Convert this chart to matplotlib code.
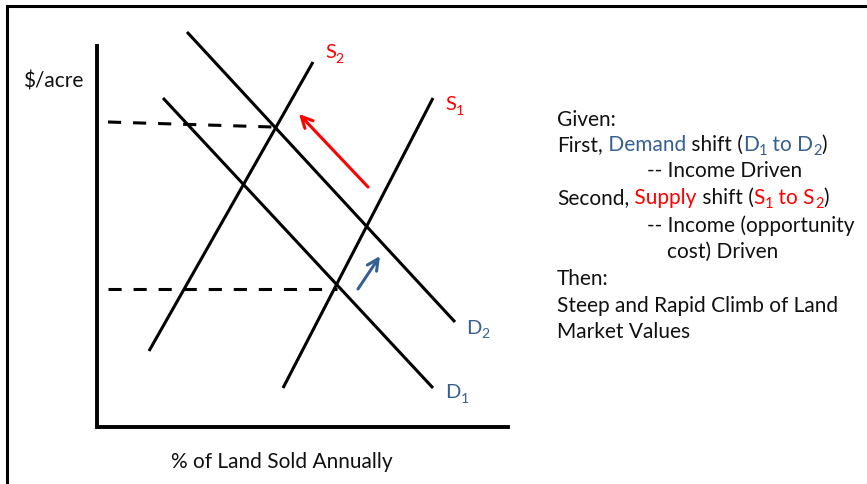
import matplotlib
matplotlib.use("Agg")
import matplotlib.pyplot as plt
import matplotlib.transforms as mtransforms
from matplotlib.patches import Rectangle

plt.rcParams['font.family'] = ['Lato', 'DejaVu Sans']

# curves: (quantity, price) endpoints, origin at the axes corner
curve_names = ['D1', 'D2', 'S1', 'S2']
curve_q0 = [66, 90, 186, 52]
curve_p0 = [329, 395, 39, 76]
curve_q1 = [336, 358, 336, 216]
curve_p1 = [39, 105, 329, 365]
curve_label_q = [348, 369, 348, 228]
curve_label_p = [35, 100, 323, 375]

# equilibrium price guides (dashed)
guide_q0 = [11, 11]
guide_p0 = [305, 138]
guide_q1 = [176, 240]
guide_p1 = [300, 138]

# shift arrows: tail -> head
arrow_names = ['demand', 'supply']
arrow_q0 = [261, 271]
arrow_p0 = [138, 240]
arrow_q1 = [283, 202]
arrow_p1 = [171, 313]

axis_q_max = 411
axis_p_max = 381

RED = '#ff0000'
BLUE = '#376092'
TXT = '#111111'

fig = plt.figure(figsize=(8.67, 4.85), dpi=100)
ax = fig.add_axes([0, 0, 1, 1])
ax.set_xlim(-97, 770)
ax.set_ylim(-57, 428)
ax.axis('off')

# slide frame
fig.patches.append(Rectangle((7 / 867, -0.1), 1.2, 1.1 - 7 / 485, transform=fig.transFigure,
                             fill=False, lw=2.2, ec='black'))

# axes of the diagram
ax.plot([0, 0, axis_q_max], [axis_p_max, 0, 0], color='black', lw=2.8, solid_joinstyle='miter')

for q0, p0, q1, p1 in zip(curve_q0, curve_p0, curve_q1, curve_p1):
    ax.plot([q0, q1], [p0, p1], color='black', lw=2.2, solid_capstyle='butt')

for q0, p0, q1, p1 in zip(guide_q0, guide_p0, guide_q1, guide_p1):
    ax.plot([q0, q1], [p0, p1], color='black', lw=2.2, linestyle=(0, (4.3, 3.9)))

for name, q0, p0, q1, p1 in zip(arrow_names, arrow_q0, arrow_p0, arrow_q1, arrow_p1):
    col = BLUE if name == 'demand' else RED
    ax.annotate('', xy=(q1, p1), xytext=(q0, p0),
                arrowprops=dict(arrowstyle='->', color=col, lw=2.2, mutation_scale=20,
                                shrinkA=0, shrinkB=0))

renderer = fig.canvas.get_renderer()


def draw_runs(x, y, runs, size, va='baseline'):
    # runs: (text, color, subscript?) drawn one after another
    t = ax.transData
    for txt, col, sub in runs:
        if sub:
            tt = mtransforms.offset_copy(t, fig=fig, x=0, y=-size * 0.3, units='points')
            fs = size * 0.7
        else:
            tt = t
            fs = size
        obj = ax.text(x, y, txt, color=col, fontsize=fs, transform=tt, va=va, ha='left')
        w = obj.get_window_extent(renderer).width
        t = mtransforms.offset_copy(t, fig=fig, x=w, y=0, units='dots')


for name, q, p in zip(curve_names, curve_label_q, curve_label_p):
    col = BLUE if name[0] == 'D' else RED
    draw_runs(q, p, [(name[0], col, False), (name[1], col, True)], 14.5, va='center')

ax.text(-14, 346, '$/acre', fontsize=15, ha='right', va='center', color=TXT)
ax.text(185, -34, '% of Land Sold Annually', fontsize=15, ha='center', va='center',
        color=TXT)

fs = 15
x0 = 460
lines = [
    (x0, [('Given:', TXT, False)]),
    (x0, [('First,', TXT, False), (' Demand', BLUE, False), (' shift (', TXT, False),
          ('D', BLUE, False), ('1', BLUE, True), (' to D', BLUE, False), ('2', BLUE, True),
          (')', TXT, False)]),
    (x0 + 90, [('-- Income Driven', TXT, False)]),
    (x0, [('Second,', TXT, False), (' Supply', RED, False), (' shift (', TXT, False),
          ('S', RED, False), ('1', RED, True), (' to S', RED, False), ('2', RED, True),
          (')', TXT, False)]),
    (x0 + 90, [('-- Income (opportunity', TXT, False)]),
    (x0 + 110, [('cost) Driven', TXT, False)]),
    (x0, [('Then:', TXT, False)]),
    (x0, [('Steep and Rapid Climb of Land', TXT, False)]),
    (x0, [('Market Values', TXT, False)]),
]
line_p = [308, 283, 257, 230, 202, 176, 149, 122, 96]
for (x, runs), p in zip(lines, line_p):
    draw_runs(x, p, runs, fs, va='center')

fig.savefig('out.png', dpi=100)
